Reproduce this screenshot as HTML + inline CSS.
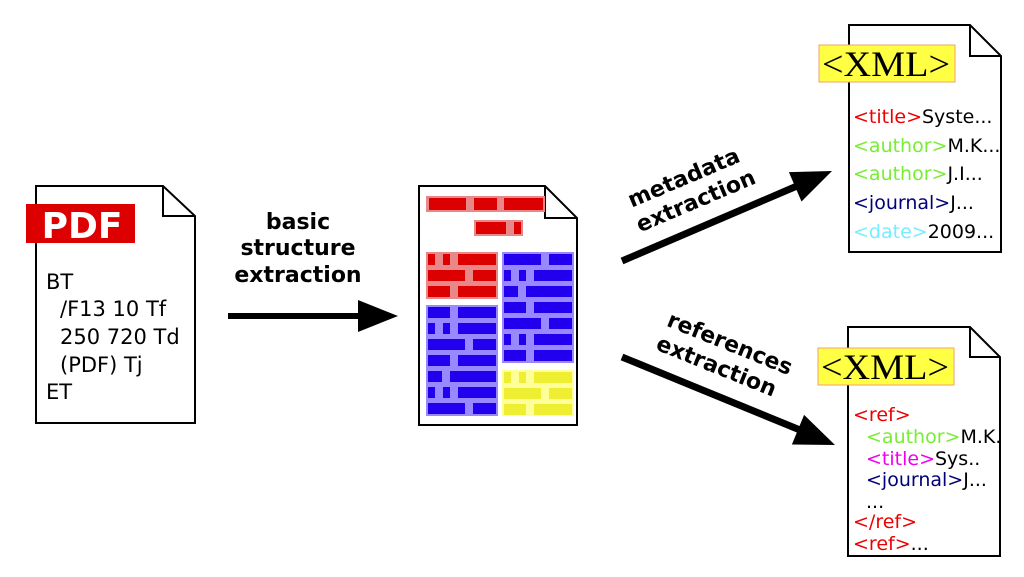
<!DOCTYPE html>
<html><head><meta charset="utf-8"><style>
html,body{margin:0;padding:0;background:#fff;}
svg{display:block;}
.s{font-family:"DejaVu Sans","Liberation Sans",sans-serif;}
.x{font-family:"Liberation Serif","DejaVu Serif",serif;}
</style></head><body>
<svg width="1024" height="577" viewBox="0 0 1024 577" xmlns="http://www.w3.org/2000/svg">
<rect width="1024" height="577" fill="#fff"/>
<!-- PDF doc -->
<path d="M36,186 H163 L195,216 V423 H36 Z" fill="#fff" stroke="#000" stroke-width="2"/>
<path d="M163,186 V216 H195" fill="none" stroke="#000" stroke-width="2"/>
<rect x="26" y="204" width="109" height="39" fill="#dd0000"/>
<text class="s" x="82" y="238" text-anchor="middle" font-size="36" font-weight="bold" fill="#fff">PDF</text>
<g class="s" font-size="21" fill="#000">
<text x="46" y="289">BT</text>
<text x="60" y="316">/F13 10 Tf</text>
<text x="60" y="344">250 720 Td</text>
<text x="60" y="372">(PDF) Tj</text>
<text x="46" y="399">ET</text>
</g>
<!-- basic structure label -->
<g class="s" font-size="22" font-weight="bold" text-anchor="middle">
<text x="298" y="229">basic</text>
<text x="298" y="255">structure</text>
<text x="298" y="282">extraction</text>
</g>
<line x1="228" y1="316" x2="362" y2="316" stroke="#000" stroke-width="6"/>
<polygon points="358,300 398,316 358,332" fill="#000"/>
<!-- middle doc -->
<path d="M419,186 H545 L577,218 V425 H419 Z" fill="#fff" stroke="#000" stroke-width="2"/>
<path d="M545,186 V218 H577" fill="none" stroke="#000" stroke-width="2"/>
<rect x="426" y="196" width="119" height="16" fill="#e88888"/>
<rect x="429" y="198" width="37" height="12" fill="#dd0000"/>
<rect x="474" y="198" width="23" height="12" fill="#dd0000"/>
<rect x="504" y="198" width="39" height="12" fill="#dd0000"/>
<rect x="474" y="220" width="49" height="16" fill="#e88888"/>
<rect x="476" y="222" width="30" height="12" fill="#dd0000"/>
<rect x="514" y="222" width="7" height="12" fill="#dd0000"/>
<rect x="426" y="252" width="72" height="47" fill="#e88888"/>
<g fill="#dd0000">
<rect x="428" y="254" width="7" height="11"/><rect x="443" y="254" width="7" height="11"/><rect x="458" y="254" width="38" height="11"/>
<rect x="428" y="270" width="37" height="11"/><rect x="473" y="270" width="23" height="11"/>
<rect x="428" y="286" width="22" height="11"/><rect x="458" y="286" width="38" height="11"/>
</g>
<rect x="426" y="305" width="72" height="111" fill="#9988ff"/>
<g fill="#2200ee">
<rect x="428" y="307" width="22" height="11"/><rect x="458" y="307" width="38" height="11"/>
<rect x="428" y="323" width="7" height="11"/><rect x="443" y="323" width="7" height="11"/><rect x="458" y="323" width="38" height="11"/>
<rect x="428" y="339" width="37" height="11"/><rect x="473" y="339" width="23" height="11"/>
<rect x="428" y="355" width="22" height="11"/><rect x="458" y="355" width="38" height="11"/>
<rect x="428" y="371" width="14" height="11"/><rect x="450" y="371" width="46" height="11"/>
<rect x="428" y="387" width="7" height="11"/><rect x="443" y="387" width="7" height="11"/><rect x="458" y="387" width="38" height="11"/>
<rect x="428" y="403" width="37" height="11"/><rect x="473" y="403" width="23" height="11"/>
</g>
<rect x="502" y="252" width="72" height="111" fill="#9988ff"/>
<g fill="#2200ee">
<rect x="504" y="254" width="37" height="11"/><rect x="549" y="254" width="23" height="11"/>
<rect x="504" y="270" width="7" height="11"/><rect x="519" y="270" width="7" height="11"/><rect x="534" y="270" width="38" height="11"/>
<rect x="504" y="286" width="14" height="11"/><rect x="526" y="286" width="46" height="11"/>
<rect x="504" y="302" width="22" height="11"/><rect x="534" y="302" width="38" height="11"/>
<rect x="504" y="318" width="37" height="11"/><rect x="549" y="318" width="23" height="11"/>
<rect x="504" y="334" width="7" height="11"/><rect x="519" y="334" width="7" height="11"/><rect x="534" y="334" width="38" height="11"/>
<rect x="504" y="350" width="22" height="11"/><rect x="534" y="350" width="38" height="11"/>
</g>
<rect x="502" y="370" width="72" height="46" fill="#ffff99"/>
<g fill="#eeee33">
<rect x="504" y="372" width="7" height="11"/><rect x="519" y="372" width="7" height="11"/><rect x="534" y="372" width="38" height="11"/>
<rect x="504" y="388" width="37" height="11"/><rect x="549" y="388" width="23" height="11"/>
<rect x="504" y="404" width="22" height="11"/><rect x="534" y="404" width="38" height="11"/>
</g>
<!-- metadata arrow -->
<line x1="622" y1="261" x2="797" y2="186" stroke="#000" stroke-width="7"/>
<polygon points="801.5,201.5 832,171 788.9,172.1" fill="#000"/>
<g class="s" transform="rotate(-23 692 192)" font-size="22" font-weight="bold" text-anchor="middle">
<text x="690" y="183">metadata</text>
<text x="692" y="209">extraction</text>
</g>
<!-- references arrow -->
<line x1="622" y1="357" x2="800" y2="430" stroke="#000" stroke-width="7"/>
<polygon points="791.9,444.5 835,445 804.1,414.9" fill="#000"/>
<g class="s" transform="rotate(22 722 358)" font-size="22" font-weight="bold" text-anchor="middle">
<text x="724" y="349">references</text>
<text x="720" y="375">extraction</text>
</g>
<!-- top XML doc -->
<path d="M849,25 H970 L1001,56 V252 H849 Z" fill="#fff" stroke="#000" stroke-width="2"/>
<path d="M970,25 V56 H1001" fill="none" stroke="#000" stroke-width="2"/>
<rect x="819" y="45" width="136" height="37" fill="#ffff44" stroke="#f0a070" stroke-width="1"/>
<text class="x" x="886" y="76" text-anchor="middle" font-size="36" textLength="128" lengthAdjust="spacingAndGlyphs">&lt;XML&gt;</text>
<g class="s" font-size="19">
<text x="853" y="123"><tspan fill="#ee0000">&lt;title&gt;</tspan><tspan fill="#000">Syste...</tspan></text>
<text x="853" y="152"><tspan fill="#77ee33">&lt;author&gt;</tspan><tspan fill="#000">M.K...</tspan></text>
<text x="853" y="180"><tspan fill="#77ee33">&lt;author&gt;</tspan><tspan fill="#000">J.I...</tspan></text>
<text x="853" y="209"><tspan fill="#000077">&lt;journal&gt;</tspan><tspan fill="#000">J...</tspan></text>
<text x="853" y="238"><tspan fill="#77eeff">&lt;date&gt;</tspan><tspan fill="#000">2009...</tspan></text>
</g>
<!-- bottom XML doc -->
<path d="M848,327 H970 L1000,357 V556 H848 Z" fill="#fff" stroke="#000" stroke-width="2"/>
<path d="M970,327 V357 H1000" fill="none" stroke="#000" stroke-width="2"/>
<rect x="818" y="348" width="136" height="37" fill="#ffff44" stroke="#f0a070" stroke-width="1"/>
<text class="x" x="885" y="379" text-anchor="middle" font-size="36" textLength="128" lengthAdjust="spacingAndGlyphs">&lt;XML&gt;</text>
<g class="s" font-size="19">
<text x="853" y="421" fill="#ee0000">&lt;ref&gt;</text>
<text x="866" y="443"><tspan fill="#77ee33">&lt;author&gt;</tspan><tspan fill="#000">M.K.</tspan></text>
<text x="866" y="465"><tspan fill="#ee00ee">&lt;title&gt;</tspan><tspan fill="#000">Sys..</tspan></text>
<text x="866" y="486"><tspan fill="#000077">&lt;journal&gt;</tspan><tspan fill="#000">J...</tspan></text>
<text x="866" y="508" fill="#000">...</text>
<text x="853" y="528" fill="#ee0000">&lt;/ref&gt;</text>
<text x="853" y="550"><tspan fill="#ee0000">&lt;ref&gt;</tspan><tspan fill="#000">...</tspan></text>
</g>
</svg>
</body></html>
